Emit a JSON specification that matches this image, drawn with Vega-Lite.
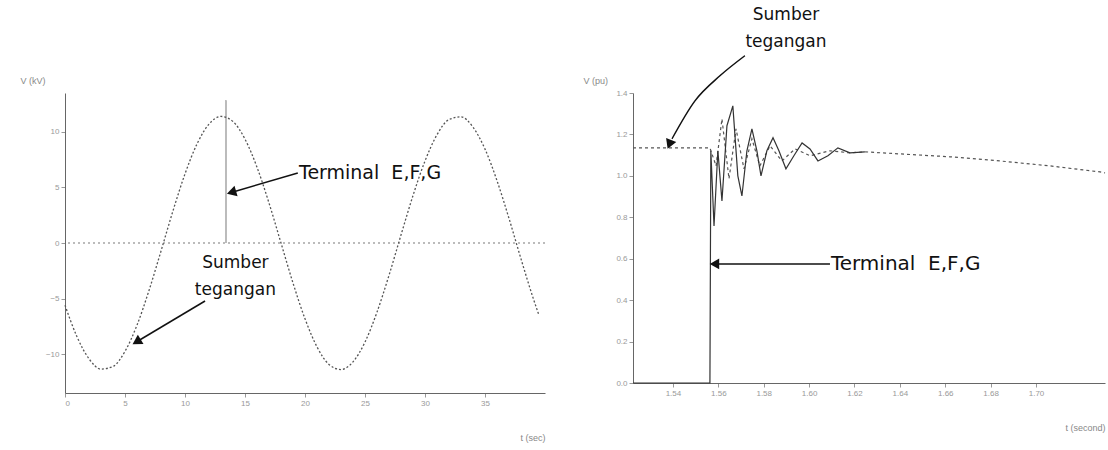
{
  "$schema": "https://vega.github.io/schema/vega-lite/v6.json",
  "background": "white",
  "padding": {"left": 20, "top": 5, "right": 3, "bottom": 5},
  "spacing": 88,
  "bounds": "flush",
  "config": {
    "view": {"stroke": null},
    "axis": {"labelColor": "#999", "labelFontSize": 8, "tickColor": "#999", "tickSize": 4, "domainColor": "#666", "grid": false, "titleColor": "#888", "titleFontSize": 9, "titleFontWeight": "normal", "labelFont": "Liberation Sans", "titleFont": "Liberation Sans"}
  },
  "datasets": {
    "wave": [
      {"t": 0, "v": -5.6}, {"t": 1, "v": -8.44}, {"t": 2, "v": -10.42}, {"t": 3, "v": -11.35}, {"t": 4, "v": -11.11},
      {"t": 5, "v": -9.75}, {"t": 6, "v": -7.39}, {"t": 7, "v": -4.27}, {"t": 8, "v": -0.73}, {"t": 9, "v": 2.9},
      {"t": 10, "v": 6.22}, {"t": 11, "v": 8.91}, {"t": 12, "v": 10.7}, {"t": 13, "v": 11.39}, {"t": 14, "v": 10.93},
      {"t": 15, "v": 9.35}, {"t": 16, "v": 6.82}, {"t": 17, "v": 3.6}, {"t": 18, "v": 0.0}, {"t": 19, "v": -3.6},
      {"t": 20, "v": -6.82}, {"t": 21, "v": -9.35}, {"t": 22, "v": -10.93}, {"t": 23, "v": -11.39}, {"t": 24, "v": -10.7},
      {"t": 25, "v": -8.92}, {"t": 26, "v": -6.22}, {"t": 27, "v": -2.91}, {"t": 28, "v": 0.72}, {"t": 29, "v": 4.27},
      {"t": 30, "v": 7.38}, {"t": 31, "v": 9.74}, {"t": 32, "v": 11.11}, {"t": 33, "v": 11.35}, {"t": 34, "v": 10.43},
      {"t": 35, "v": 8.45}, {"t": 36, "v": 5.61}, {"t": 37, "v": 2.21}, {"t": 38, "v": -1.43}, {"t": 39, "v": -4.92},
      {"t": 39.5, "v": -6.5}
    ],
    "terminal": [
      {"t": 1.5224, "v": 0}, {"t": 1.5559, "v": 0}, {"t": 1.5563, "v": 0.0}, {"t": 1.5567, "v": 1.121},
      {"t": 1.5581, "v": 0.758}, {"t": 1.5598, "v": 1.121}, {"t": 1.5616, "v": 0.879}, {"t": 1.5638, "v": 1.242},
      {"t": 1.5664, "v": 1.338}, {"t": 1.5686, "v": 1.0}, {"t": 1.5704, "v": 0.903}, {"t": 1.5726, "v": 1.121},
      {"t": 1.5748, "v": 1.227}, {"t": 1.577, "v": 1.121}, {"t": 1.5788, "v": 1.0}, {"t": 1.5814, "v": 1.121},
      {"t": 1.5841, "v": 1.184}, {"t": 1.5867, "v": 1.121}, {"t": 1.5898, "v": 1.034}, {"t": 1.5933, "v": 1.097},
      {"t": 1.5969, "v": 1.159}, {"t": 1.6004, "v": 1.13}, {"t": 1.6039, "v": 1.072}, {"t": 1.6083, "v": 1.097},
      {"t": 1.6127, "v": 1.135}, {"t": 1.618, "v": 1.111}, {"t": 1.6246, "v": 1.116}
    ],
    "source": [
      {"t": 1.5224, "v": 1.135}, {"t": 1.5563, "v": 1.135}, {"t": 1.559, "v": 1.048}, {"t": 1.5616, "v": 1.275},
      {"t": 1.5647, "v": 0.986}, {"t": 1.5678, "v": 1.227}, {"t": 1.5713, "v": 1.034}, {"t": 1.5748, "v": 1.179},
      {"t": 1.5783, "v": 1.048}, {"t": 1.5828, "v": 1.145}, {"t": 1.588, "v": 1.072}, {"t": 1.5938, "v": 1.13},
      {"t": 1.6004, "v": 1.097}, {"t": 1.6092, "v": 1.121}, {"t": 1.618, "v": 1.111}, {"t": 1.6246, "v": 1.116},
      {"t": 1.64, "v": 1.106}, {"t": 1.6621, "v": 1.092}, {"t": 1.6841, "v": 1.072}, {"t": 1.7062, "v": 1.048},
      {"t": 1.7282, "v": 1.019}, {"t": 1.7304, "v": 1.014}
    ]
  },
  "hconcat": [
    {
      "width": 480,
      "height": 300,
      "encoding": {
        "x": {"type": "quantitative", "scale": {"domain": [0, 40], "nice": false}, "axis": {"values": [0, 5, 10, 15, 20, 25, 30, 35], "title": "t (sec)", "titleAnchor": "end", "titleAlign": "right", "titleY": 40}},
        "y": {"type": "quantitative", "scale": {"domain": [-13.5, 13.5], "nice": false}, "axis": {"values": [-10, -5, 0, 5, 10], "title": "V (kV)", "titleAngle": 0, "titleAlign": "left", "titleX": -45, "titleY": -8, "titleBaseline": "bottom"}}
      },
      "layer": [
        {"mark": {"type": "rule", "color": "#bbb", "strokeDash": [2, 3]}, "encoding": {"y": {"datum": 0}}},
        {"mark": {"type": "rule", "color": "#bbb", "strokeWidth": 1}, "encoding": {"x": {"datum": 13.4}, "y": {"datum": 0}, "y2": {"datum": 12.8}}},
        {"data": {"name": "wave"}, "mark": {"type": "line", "color": "#555", "strokeWidth": 1.3, "strokeDash": [2, 2], "interpolate": "monotone"}, "encoding": {"x": {"field": "t"}, "y": {"field": "v"}}},
        {
          "data": {"values": [{"x": 19.4, "y": 6.3, "x2": 14.0, "y2": 4.59, "a": 253.6}, {"x": 11.67, "y": -5.22, "x2": 6.08, "y2": -8.82, "a": 239}]},
          "layer": [
            {"mark": {"type": "rule", "color": "#111", "strokeWidth": 1.5}, "encoding": {"x": {"field": "x"}, "y": {"field": "y"}, "x2": {"field": "x2"}, "y2": {"field": "y2"}}},
            {"mark": {"type": "point", "shape": "triangle", "filled": true, "color": "#111", "opacity": 1, "size": 120}, "encoding": {"x": {"field": "x2"}, "y": {"field": "y2"}, "angle": {"field": "a", "type": "quantitative", "scale": null}}}
          ]
        },
        {
          "data": {"values": [{"x": 19.5, "y": 6.3, "label": "Terminal\u00a0 E,F,G"}]},
          "mark": {"type": "text", "font": "DejaVu Sans", "fontSize": 19, "color": "#111", "align": "left", "baseline": "middle"},
          "encoding": {"x": {"field": "x"}, "y": {"field": "y"}, "text": {"field": "label"}}
        },
        {
          "data": {"values": [{"x": 14.2, "y": -1.8, "label": "Sumber\ntegangan"}]},
          "mark": {"type": "text", "font": "DejaVu Sans", "fontSize": 17, "color": "#111", "lineBreak": "\n", "lineHeight": 27, "align": "center", "baseline": "middle"},
          "encoding": {"x": {"field": "x"}, "y": {"field": "y"}, "text": {"field": "label"}}
        }
      ]
    },
    {
      "width": 472,
      "height": 290,
      "encoding": {
        "x": {"type": "quantitative", "scale": {"domain": [1.5224, 1.7304], "nice": false, "zero": false}, "axis": {"values": [1.54, 1.56, 1.58, 1.6, 1.62, 1.64, 1.66, 1.68, 1.7], "format": ".2f", "title": "t (second)", "titleAnchor": "end", "titleAlign": "right", "titleY": 40}},
        "y": {"type": "quantitative", "scale": {"domain": [0, 1.4], "nice": false}, "axis": {"values": [0, 0.2, 0.4, 0.6, 0.8, 1.0, 1.2, 1.4], "title": "V (pu)", "titleAngle": 0, "titleAlign": "left", "titleX": -50, "titleY": -8, "titleBaseline": "bottom"}}
      },
      "layer": [
        {"data": {"name": "source"}, "mark": {"type": "line", "color": "#555", "strokeWidth": 1.2, "strokeDash": [3, 3]}, "encoding": {"x": {"field": "t"}, "y": {"field": "v"}}},
        {"data": {"name": "terminal"}, "mark": {"type": "line", "color": "#333", "strokeWidth": 1.2}, "encoding": {"x": {"field": "t"}, "y": {"field": "v"}}},
        {
          "data": {"values": [{"x": 1.5717, "y": 1.58}, {"x": 1.5607, "y": 1.483}, {"x": 1.5497, "y": 1.362}, {"x": 1.5396, "y": 1.179}]},
          "mark": {"type": "line", "color": "#111", "strokeWidth": 1.5, "interpolate": "monotone", "clip": false},
          "encoding": {"x": {"field": "x"}, "y": {"field": "y"}}
        },
        {
          "data": {"values": [{"x": 1.6092, "y": 0.575, "x2": 1.5598, "y2": 0.575}]},
          "mark": {"type": "rule", "color": "#111", "strokeWidth": 1.5},
          "encoding": {"x": {"field": "x"}, "y": {"field": "y"}, "x2": {"field": "x2"}, "y2": {"field": "y2"}}
        },
        {
          "data": {"values": [{"x": 1.5387, "y": 1.159, "a": 202}, {"x": 1.559, "y": 0.575, "a": 270}]},
          "mark": {"type": "point", "shape": "triangle", "filled": true, "color": "#111", "opacity": 1, "size": 120},
          "encoding": {"x": {"field": "x"}, "y": {"field": "y"}, "angle": {"field": "a", "type": "quantitative", "scale": null}}
        },
        {
          "data": {"values": [{"x": 1.6096, "y": 0.575, "label": "Terminal\u00a0 E,F,G"}]},
          "mark": {"type": "text", "font": "DejaVu Sans", "fontSize": 20, "color": "#111", "align": "left", "baseline": "middle"},
          "encoding": {"x": {"field": "x"}, "y": {"field": "y"}, "text": {"field": "label"}}
        },
        {
          "data": {"values": [{"x": 1.5898, "y": 1.778, "label": "Sumber\ntegangan"}]},
          "mark": {"type": "text", "font": "DejaVu Sans", "fontSize": 17, "color": "#111", "lineBreak": "\n", "lineHeight": 27, "align": "center", "baseline": "middle"},
          "encoding": {"x": {"field": "x"}, "y": {"field": "y"}, "text": {"field": "label"}}
        }
      ]
    }
  ]
}
